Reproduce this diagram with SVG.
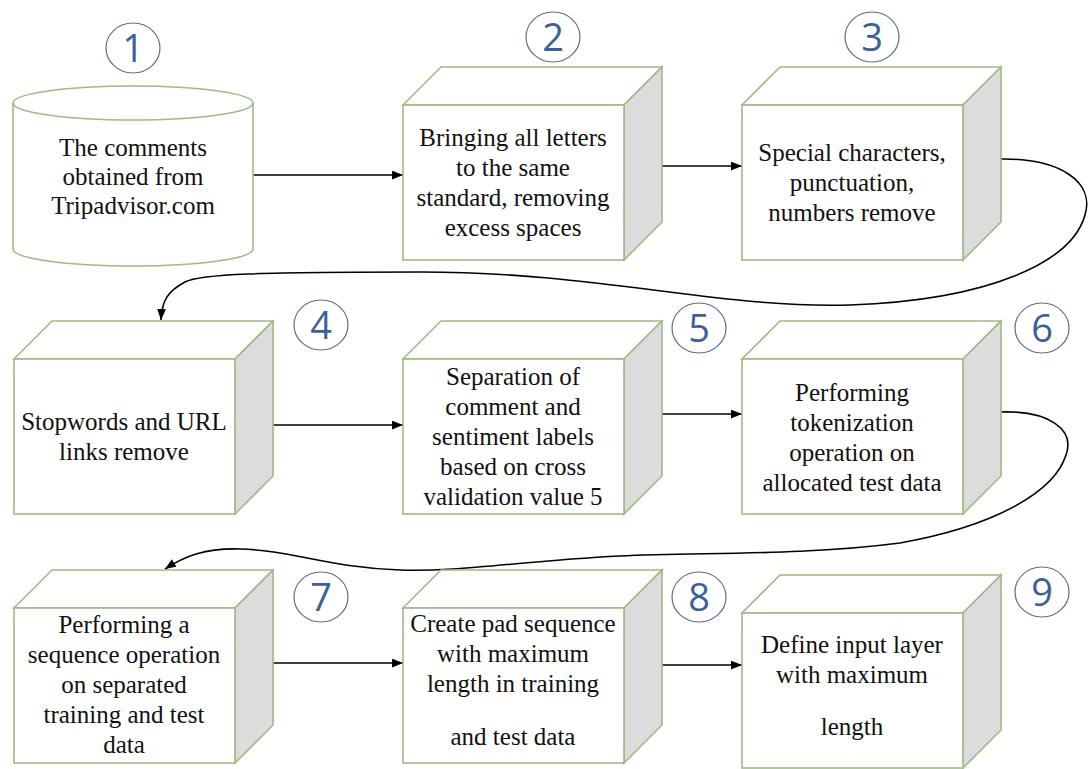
<svg xmlns="http://www.w3.org/2000/svg" xmlns:xlink="http://www.w3.org/1999/xlink" width="1090" height="769" viewBox="0 0 1090 769">
<style>
.front{fill:#ffffff;stroke:#9fba84;stroke-width:1.6}
.top{fill:#ffffff;stroke:#9fba84;stroke-width:1.6}
.side{fill:#dcdcdc;stroke:#9fba84;stroke-width:1.6}
.cyl{fill:#ffffff;stroke:#9fba84;stroke-width:1.6}
.lbl{font-family:'Liberation Serif',serif;font-size:25px;fill:#111111;text-anchor:middle}
.num{font-family:'Open Sans',sans-serif;font-size:38px;fill:#3d5f9c;text-anchor:middle}
.ring{fill:#ffffff;stroke:#5f6d86;stroke-width:1.2}
.conn{fill:none;stroke:#000000;stroke-width:1.6}
</style>
<defs>
<marker id="ah" viewBox="0 0 10 8" refX="10" refY="4" markerWidth="11" markerHeight="9" markerUnits="userSpaceOnUse" orient="auto">
<path d="M0,0 L10,4 L0,8 Z" fill="#000000"/>
</marker>
<g id="cube">
<path class="top" d="M0,0 L38,-38 L259,-38 L221,0 Z"/>
<path class="side" d="M221,0 L259,-38 L259,117 L221,155 Z"/>
<rect class="front" x="0" y="0" width="221" height="155"/>
</g>
</defs>
<rect width="1090" height="769" fill="#ffffff"/>

<g id="connectors">
<path class="conn" marker-end="url(#ah)" d="M253,175 H403"/>
<path class="conn" marker-end="url(#ah)" d="M662,166 H742"/>
<path class="conn" marker-end="url(#ah)" d="M1000,159 C1060,158 1095,182 1085,215 C1072,262 990,300 850,305 C720,309 600,272 420,272 C260,272 200,274 185,282 C168,291 162,300 161,320"/>
<path class="conn" marker-end="url(#ah)" d="M273,425 H403"/>
<path class="conn" marker-end="url(#ah)" d="M662,414 H742"/>
<path class="conn" marker-end="url(#ah)" d="M999,412 C1050,410 1075,430 1066,455 C1055,490 1000,525 900,543 C800,556 700,552 620,556 C520,561 460,572 400,570 C330,568 290,550 240,549 C205,548 185,556 165,569"/>
<path class="conn" marker-end="url(#ah)" d="M273,663 H403"/>
<path class="conn" marker-end="url(#ah)" d="M662,665 H742"/>
</g>

<g id="node1" font-family="Liberation Serif">
<path class="cyl" d="M13,103 V249 A120,17 0 0 0 253,249 V103"/>
<ellipse class="cyl" cx="133" cy="103" rx="120" ry="17"/>
<text class="lbl" x="133" y="156">The comments</text>
<text class="lbl" x="133" y="185">obtained from</text>
<text class="lbl" x="133" y="214">Tripadvisor.com</text>
<ellipse class="ring" cx="133" cy="48" rx="27" ry="25"/>
<text class="num" x="133" y="62">1</text>
</g>

<g id="node2" font-family="Liberation Serif">
<use xlink:href="#cube" href="#cube" x="403" y="105"/>
<text class="lbl" x="513" y="146">Bringing all letters</text>
<text class="lbl" x="513" y="176">to the same</text>
<text class="lbl" x="513" y="206">standard, removing</text>
<text class="lbl" x="513" y="236">excess spaces</text>
<ellipse class="ring" cx="553" cy="37" rx="27" ry="25"/>
<text class="num" x="553" y="51">2</text>
</g>

<g id="node3" font-family="Liberation Serif">
<use xlink:href="#cube" href="#cube" x="742" y="105"/>
<text class="lbl" x="852" y="161">Special characters,</text>
<text class="lbl" x="852" y="191">punctuation,</text>
<text class="lbl" x="852" y="221">numbers remove</text>
<ellipse class="ring" cx="872" cy="37" rx="27" ry="25"/>
<text class="num" x="872" y="51">3</text>
</g>

<g id="node4" font-family="Liberation Serif">
<use xlink:href="#cube" href="#cube" x="14" y="359"/>
<text class="lbl" x="124" y="430">Stopwords and URL</text>
<text class="lbl" x="124" y="460">links remove</text>
<ellipse class="ring" cx="321" cy="325" rx="27" ry="25"/>
<text class="num" x="321" y="339">4</text>
</g>

<g id="node5" font-family="Liberation Serif">
<use xlink:href="#cube" href="#cube" x="403" y="359"/>
<text class="lbl" x="513" y="385">Separation of</text>
<text class="lbl" x="513" y="415">comment and</text>
<text class="lbl" x="513" y="445">sentiment labels</text>
<text class="lbl" x="513" y="475">based on cross</text>
<text class="lbl" x="513" y="505">validation value 5</text>
<ellipse class="ring" cx="699" cy="328" rx="27" ry="25"/>
<text class="num" x="699" y="342">5</text>
</g>

<g id="node6" font-family="Liberation Serif">
<use xlink:href="#cube" href="#cube" x="742" y="359"/>
<text class="lbl" x="852" y="401">Performing</text>
<text class="lbl" x="852" y="431">tokenization</text>
<text class="lbl" x="852" y="461">operation on</text>
<text class="lbl" x="852" y="491">allocated test data</text>
<ellipse class="ring" cx="1042" cy="328" rx="27" ry="25"/>
<text class="num" x="1042" y="342">6</text>
</g>

<g id="node7" font-family="Liberation Serif">
<use xlink:href="#cube" href="#cube" x="14" y="608"/>
<text class="lbl" x="124" y="633">Performing a</text>
<text class="lbl" x="124" y="663">sequence operation</text>
<text class="lbl" x="124" y="693">on separated</text>
<text class="lbl" x="124" y="723">training and test</text>
<text class="lbl" x="124" y="753">data</text>
<ellipse class="ring" cx="321" cy="597" rx="27" ry="25"/>
<text class="num" x="321" y="611">7</text>
</g>

<g id="node8" font-family="Liberation Serif">
<use xlink:href="#cube" href="#cube" x="403" y="608"/>
<text class="lbl" x="513" y="632">Create pad sequence</text>
<text class="lbl" x="513" y="662">with maximum</text>
<text class="lbl" x="513" y="692">length in training</text>
<text class="lbl" x="513" y="745">and test data</text>
<ellipse class="ring" cx="699" cy="597" rx="27" ry="25"/>
<text class="num" x="699" y="611">8</text>
</g>

<g id="node9" font-family="Liberation Serif">
<use xlink:href="#cube" href="#cube" x="742" y="613"/>
<text class="lbl" x="852" y="653">Define input layer</text>
<text class="lbl" x="852" y="683">with maximum</text>
<text class="lbl" x="852" y="735">length</text>
<ellipse class="ring" cx="1042" cy="592" rx="27" ry="25"/>
<text class="num" x="1042" y="606">9</text>
</g>
</svg>
